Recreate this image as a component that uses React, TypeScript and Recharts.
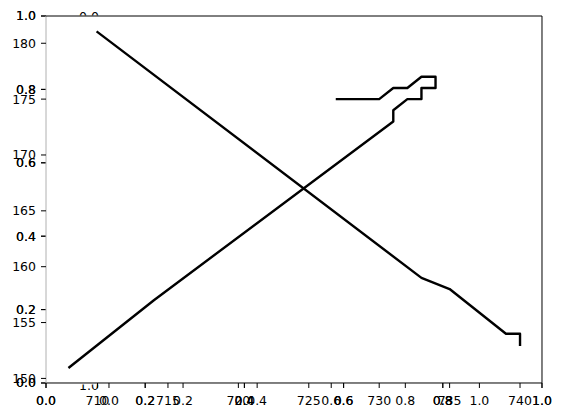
import React from "react";
import { LineChart, Line, XAxis, YAxis } from "recharts";

// main axes ticks
const mainXTicks = [710, 715, 720, 725, 730, 735, 740];
const mainYTicks = [150, 155, 160, 165, 170, 175, 180];
const unitTicks = [0, 0.2, 0.4, 0.6, 0.8, 1.0];

// descending line
const descX = [710, 733, 735, 739, 740, 740];
const descY = [181, 159, 158, 154, 154, 153];

// rising line with the little loop at the top
const loopX = [708, 714, 731, 731, 732, 733, 733, 734, 734, 733, 732, 731, 730, 727];
const loopY = [151, 157, 173, 174, 175, 175, 176, 176, 177, 177, 176, 176, 175, 175];

const descData = descX.map((x, i) => ({ x, y: descY[i] }));
const loopData = loopX.map((x, i) => ({ x, y: loopY[i] }));
// the empty 0..1 axes need some values to build ticks from
const unitData = unitTicks.map((u) => ({ u }));

const W = 563;
const H = 418;
const font = "DejaVu Sans";
const fs = 12.5;
const tickStyle = { fill: "#000", fontSize: fs, fontFamily: font };
const fmt1 = (v: number) => v.toFixed(1);
const thin = 0.001;

export default function App() {
  return (
    <div style={{ position: "absolute", left: 0, top: 0, width: W, height: H, background: "#fff" }}>
      <LineChart width={W} height={H} data={unitData} margin={{ top: 16, right: 21, bottom: 35, left: 46 }}>
        {/* inset axis hidden behind the main one: only its x labels show */}
        <XAxis
          xAxisId="inset"
          dataKey="u"
          type="number"
          domain={[-0.17, 1.169]}
          allowDataOverflow
          ticks={unitTicks}
          tickFormatter={fmt1}
          height={thin}
          axisLine={false}
          tickLine={{ stroke: "#000" }}
          tickSize={5}
          tickMargin={8}
          tick={tickStyle}
          interval={0}
        />
        {[0, 1].map((k) => (
          <XAxis
            key={"ux" + k}
            xAxisId={"ux" + k}
            dataKey="u"
            type="number"
            domain={[0, 1]}
            allowDataOverflow
            ticks={unitTicks}
            tickFormatter={fmt1}
            height={thin}
            axisLine={false}
            tickLine={{ stroke: "#000" }}
            tickSize={5}
            tickMargin={8}
            tick={tickStyle}
            interval={0}
          />
        ))}
        {[0, 1].map((k) => (
          <YAxis
            key={"uy" + k}
            yAxisId={"uy" + k}
            type="number"
            domain={[0, 1]}
            allowDataOverflow
            ticks={unitTicks}
            tickFormatter={fmt1}
            width={thin}
            axisLine={false}
            tickLine={{ stroke: "#000" }}
            tickSize={5}
            tickMargin={5}
            tick={tickStyle}
            interval={0}
          />
        ))}
        <XAxis
          xAxisId="main"
          dataKey="x"
          type="number"
          domain={[706.34, 741.56]}
          allowDataOverflow
          ticks={mainXTicks}
          height={thin}
          axisLine={{ stroke: "#000" }}
          tickLine={{ stroke: "#000" }}
          tickSize={5}
          tickMargin={8}
          tick={tickStyle}
          interval={0}
        />
        <YAxis
          yAxisId="main"
          dataKey="y"
          type="number"
          domain={[149.59, 182.44]}
          allowDataOverflow
          ticks={mainYTicks}
          width={thin}
          axisLine={{ stroke: "#b0b0b0" }}
          tickLine={{ stroke: "#000" }}
          tickSize={5}
          tickMargin={5}
          tick={tickStyle}
          interval={0}
        />
        <XAxis xAxisId="top" orientation="top" type="number" domain={[0, 1]} height={thin} tick={false} tickLine={false} axisLine={{ stroke: "#000" }} />
        <YAxis yAxisId="right" orientation="right" type="number" domain={[0, 1]} width={thin} tick={false} tickLine={false} axisLine={{ stroke: "#000" }} />
        <Line
          xAxisId="main"
          yAxisId="main"
          data={descData}
          dataKey="y"
          type="linear"
          stroke="#000"
          strokeWidth={2.4}
          strokeLinecap="square"
          strokeLinejoin="round"
          dot={false}
          isAnimationActive={false}
        />
        <Line
          xAxisId="main"
          yAxisId="main"
          data={loopData}
          dataKey="y"
          type="linear"
          stroke="#000"
          strokeWidth={2.4}
          strokeLinecap="square"
          strokeLinejoin="round"
          dot={false}
          isAnimationActive={false}
        />
      </LineChart>
      {/* inset y labels, mostly covered by the main axes */}
      <svg width={W} height={H} style={{ position: "absolute", left: 0, top: 0, pointerEvents: "none" }}>
        <defs>
          <clipPath id="aboveTop">
            <rect x={0} y={0} width={W} height={15.5} />
          </clipPath>
          <clipPath id="belowBottom">
            <rect x={0} y={384.5} width={W} height={H - 384.5} />
          </clipPath>
        </defs>
        <text x={89} y={21} textAnchor="middle" fontSize={fs} fontFamily={font} fill="#000" clipPath="url(#aboveTop)">
          0.0
        </text>
        <text x={89} y={390} textAnchor="middle" fontSize={fs} fontFamily={font} fill="#000" clipPath="url(#belowBottom)">
          1.0
        </text>
      </svg>
    </div>
  );
}
